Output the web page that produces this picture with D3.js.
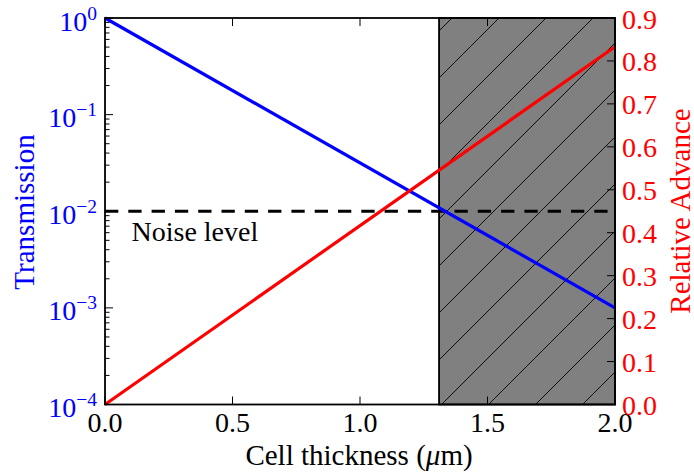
<!DOCTYPE html>
<html>
<head>
<meta charset="utf-8">
<script src="https://cdn.jsdelivr.net/npm/d3@7"></script>
<style>
  html, body { margin: 0; padding: 0; background: #fff; }
  svg { display: block; }
</style>
</head>
<body>
<svg id="chart" width="694" height="475" font-family="'Liberation Serif', 'DejaVu Serif', serif"></svg>
<script>
// ---- data ----
const thickness = [0, 2.0];            // cell thickness (µm)
const transmission = [1, 1e-3];        // left axis, log
const relativeAdvance = [0, 0.833];    // right axis
const noiseLevel = 1e-2;
const shadedRange = [1.31, 2.0];       // hatched region
const xTicks = [0, 0.5, 1.0, 1.5, 2.0];
const xTickLabels = ["0.0", "0.5", "1.0", "1.5", "2.0"];
const leftTickExps = [0, -1, -2, -3, -4];
const rightTicks = [0, 0.1, 0.2, 0.3, 0.4, 0.5, 0.6, 0.7, 0.8, 0.9];
const rightTickLabels = ["0.0","0.1","0.2","0.3","0.4","0.5","0.6","0.7","0.8","0.9"];

// ---- layout ----
const W = 694, H = 475;
const m = { left: 105, right: 79, top: 18, bottom: 70.5 };
const iw = W - m.left - m.right, ih = H - m.top - m.bottom;

const svg = d3.select("#chart");
const g = svg.append("g").attr("transform", `translate(${m.left},${m.top})`);

const x = d3.scaleLinear().domain([0, 2]).range([0, iw]);
const yL = d3.scaleLog().domain([1e-4, 1]).range([ih, 0]);
const yR = d3.scaleLinear().domain([0, 0.9]).range([ih, 0]);

// hatch pattern (diagonal "/")
const P = 47;
const defs = svg.append("defs");
const pat = defs.append("pattern")
  .attr("id", "hatch").attr("patternUnits", "userSpaceOnUse")
  .attr("width", P).attr("height", P)
  .attr("x", (P*3 - (m.left + m.top)) % P).attr("y", 0);
pat.append("rect").attr("width", P).attr("height", P).attr("fill", "#808080");
pat.append("path")
  .attr("d", `M-2,${P+2} L${P+2},-2 M-2,2 L2,-2 M${P-2},${P+2} L${P+2},${P-2}`)
  .attr("stroke", "#000").attr("stroke-width", 0.9);

// shaded region
g.append("rect")
  .attr("x", x(shadedRange[0])).attr("y", 0)
  .attr("width", x(shadedRange[1]) - x(shadedRange[0]))
  .attr("height", ih)
  .attr("fill", "url(#hatch)")
  .attr("stroke", "#000").attr("stroke-width", 1.8);

// noise level dashed line
g.append("line")
  .attr("x1", x(0)).attr("x2", x(2))
  .attr("y1", yL(noiseLevel)).attr("y2", yL(noiseLevel))
  .attr("stroke", "#000").attr("stroke-width", 3.2)
  .attr("stroke-dasharray", "13.3 10");

g.append("text")
  .attr("x", 131.5 - m.left).attr("y", 241 - m.top)
  .attr("font-size", 28).attr("fill", "#000")
  .text("Noise level");

// transmission line (blue)
const lineL = d3.line().x((d, i) => x(thickness[i])).y(d => yL(d));
g.append("path").datum(transmission)
  .attr("d", lineL).attr("fill", "none")
  .attr("stroke", "#0000ff").attr("stroke-width", 3.2);

// relative advance line (red)
const lineR = d3.line().x((d, i) => x(thickness[i])).y(d => yR(d));
g.append("path").datum(relativeAdvance)
  .attr("d", lineR).attr("fill", "none")
  .attr("stroke", "#ff0000").attr("stroke-width", 3.2);

// ---- ticks (inward) ----
const tickG = g.append("g").attr("stroke", "#000").attr("stroke-width", 1);
const major = 8, minor = 4.5;
xTicks.forEach(t => {
  tickG.append("line").attr("x1", x(t)).attr("x2", x(t)).attr("y1", ih).attr("y2", ih - major);
  tickG.append("line").attr("x1", x(t)).attr("x2", x(t)).attr("y1", 0).attr("y2", major);
});
leftTickExps.forEach(e => {
  const v = Math.pow(10, e);
  tickG.append("line").attr("x1", 0).attr("x2", major).attr("y1", yL(v)).attr("y2", yL(v));
  if (e < 0) {
    for (let k = 2; k <= 9; k++) {
      const mv = k * v;
      tickG.append("line").attr("x1", 0).attr("x2", minor).attr("y1", yL(mv)).attr("y2", yL(mv));
    }
  }
});
rightTicks.forEach(t => {
  tickG.append("line").attr("x1", iw).attr("x2", iw - major).attr("y1", yR(t)).attr("y2", yR(t));
});

// ---- frame ----
g.append("rect").attr("x", 0).attr("y", 0).attr("width", iw).attr("height", ih)
  .attr("fill", "none").attr("stroke", "#000").attr("stroke-width", 1.8);

// ---- tick labels ----
const FS = 28;
xTicks.forEach((t, i) => {
  g.append("text").attr("x", x(t)).attr("y", ih + 27.5)
    .attr("text-anchor", "middle").attr("font-size", FS).attr("fill", "#000")
    .text(xTickLabels[i]);
});
leftTickExps.forEach(e => {
  const v = Math.pow(10, e);
  const t = g.append("text").attr("x", 97 - m.left).attr("y", yL(v) + 12.5)
    .attr("text-anchor", "end").attr("font-size", FS).attr("fill", "#0000ff");
  t.append("tspan").text("10");
  t.append("tspan").attr("dy", -11).attr("font-size", 19.5)
    .text(e === 0 ? "0" : "\u2212" + Math.abs(e));
});
rightTicks.forEach((v, i) => {
  g.append("text").attr("x", 622 - m.left).attr("y", yR(v) + 10.5)
    .attr("text-anchor", "start").attr("font-size", FS).attr("fill", "#ff0000")
    .text(rightTickLabels[i]);
});

// ---- axis titles ----
const xt = svg.append("text").attr("x", 359).attr("y", 464.5)
  .attr("text-anchor", "middle").attr("font-size", 29).attr("fill", "#000");
xt.append("tspan").text("Cell thickness (");
xt.append("tspan").attr("font-style", "italic").text("\u03bc");
xt.append("tspan").text("m)");

svg.append("text")
  .attr("transform", "translate(33.5,212) rotate(-90)")
  .attr("text-anchor", "middle").attr("font-size", 29).attr("fill", "#0000ff")
  .text("Transmission");

svg.append("text")
  .attr("transform", "translate(690,211) rotate(-90)")
  .attr("text-anchor", "middle").attr("font-size", 29).attr("fill", "#ff0000")
  .text("Relative Advance");
</script>
</body>
</html>
